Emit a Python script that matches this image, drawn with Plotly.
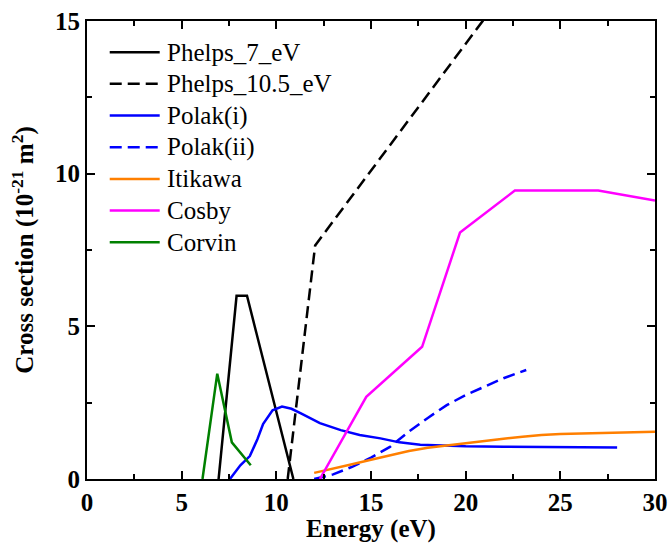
import plotly.graph_objects as go

# ---- data ----
phelps7_x = [6.95, 7.9, 8.45, 10.9]
phelps7_y = [0.0, 6.0, 6.0, 0.0]

phelps105_x = [10.6, 12.05, 21.5]
phelps105_y = [0.0, 7.65, 15.5]

polak1_x = [7.55, 8.1, 8.6, 9.0, 9.3, 9.8, 10.3, 10.8, 11.3, 12.3, 13.4, 14.4, 15.5, 16.5, 17.6, 18.8, 20.0, 22.0, 25.0, 28.0]
polak1_y = [0.0, 0.45, 0.75, 1.3, 1.8, 2.25, 2.37, 2.3, 2.15, 1.83, 1.6, 1.44, 1.33, 1.2, 1.12, 1.09, 1.07, 1.06, 1.04, 1.03]

polak2_x = [12.0, 13.0, 14.0, 15.0, 16.0, 17.0, 18.0, 19.0, 20.0, 21.0, 22.0, 23.2]
polak2_y = [0.0, 0.15, 0.4, 0.7, 1.05, 1.55, 2.0, 2.42, 2.75, 3.02, 3.3, 3.57]

itikawa_x = [12, 13, 14, 15, 16, 17, 18, 19, 20, 21, 22, 23, 24, 25, 26, 27, 28, 29, 30]
itikawa_y = [0.2, 0.33, 0.48, 0.63, 0.78, 0.92, 1.02, 1.1, 1.18, 1.25, 1.32, 1.38, 1.44, 1.47, 1.49, 1.5, 1.52, 1.53, 1.55]

cosby_x = [12.3, 14.75, 17.7, 19.7, 22.6, 27.0, 30.0]
cosby_y = [0.0, 2.69, 4.33, 8.07, 9.45, 9.45, 9.12]

corvin_x = [6.1, 6.88, 7.65, 8.65]
corvin_y = [0.0, 3.45, 1.2, 0.45]

series_names = ["Phelps_7_eV", "Phelps_10.5_eV", "Polak(i)", "Polak(ii)", "Itikawa", "Cosby", "Corvin"]

x_ticks = [0, 5, 10, 15, 20, 25, 30]
y_ticks = [0, 5, 10, 15]

FONT = "Liberation Serif"
DASH = "12px,6px"

series = [
    (series_names[0], phelps7_x, phelps7_y, "#000000", "solid"),
    (series_names[1], phelps105_x, phelps105_y, "#000000", DASH),
    (series_names[2], polak1_x, polak1_y, "#0000FF", "solid"),
    (series_names[3], polak2_x, polak2_y, "#0000FF", DASH),
    (series_names[4], itikawa_x, itikawa_y, "#FF7F00", "solid"),
    (series_names[5], cosby_x, cosby_y, "#FF00FF", "solid"),
    (series_names[6], corvin_x, corvin_y, "#008000", "solid"),
]

fig = go.Figure()
for name, xs, ys, color, dash in series:
    fig.add_trace(go.Scatter(
        x=xs, y=ys, mode="lines", name=name, showlegend=False,
        line=dict(color=color, width=2.5, dash=dash),
    ))

# legend drawn in paper coordinates (line sample + text), one row per series
row_top = 0.932     # paper y of first row
row_step = 0.0692   # paper spacing between rows
for i, (name, xs, ys, color, dash) in enumerate(series):
    yy = row_top - i * row_step
    fig.add_shape(type="line", xref="paper", yref="paper",
                  x0=0.040, x1=0.128, y0=yy, y1=yy,
                  line=dict(color=color, width=2.5, dash=dash))
    fig.add_annotation(xref="paper", yref="paper", x=0.137, y=yy,
                       text=name, showarrow=False, xanchor="left", yanchor="middle",
                       font=dict(family=FONT, size=25, color="black"))

axis_common = dict(
    showline=True, linecolor="black", linewidth=2,
    mirror="ticks", ticks="inside", ticklen=8, tickwidth=2, tickcolor="black",
    showgrid=False, zeroline=False, automargin=False,
    tickfont=dict(family=FONT, size=25, color="black", weight="bold"),
)

fig.update_xaxes(
    range=[0, 30], tickvals=x_ticks,
    minor=dict(ticks="inside", ticklen=5, tickwidth=2, tickcolor="black", dtick=2.5, showgrid=False),
    title=dict(text="Energy (eV)", font=dict(family=FONT, size=25, color="black", weight="bold"), standoff=4),
    **axis_common,
)
fig.update_yaxes(
    range=[0, 15], tickvals=y_ticks,
    minor=dict(ticks="inside", ticklen=5, tickwidth=2, tickcolor="black", dtick=2.5, showgrid=False),
    title=dict(text="Cross section (10<sup>-21</sup> m<sup>2</sup>)", font=dict(family=FONT, size=25, color="black", weight="bold"), standoff=14),
    **axis_common,
)

fig.update_layout(
    width=669, height=543,
    margin=dict(l=87, r=14, t=21, b=64),
    paper_bgcolor="white", plot_bgcolor="white",
    showlegend=False,
)

# remove the default 8px page margin so the figure sits at the window origin
fig.write_html("out.html", config={"displayModeBar": False},
               post_script="document.body.style.margin='0';document.body.style.overflow='hidden';")
